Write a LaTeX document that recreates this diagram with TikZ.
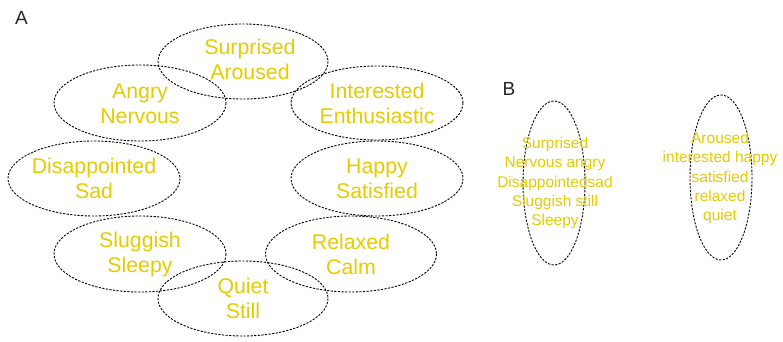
\documentclass[tikz,border=0pt]{standalone}
\usepackage{fontspec}
\setmainfont{Liberation Sans}
\definecolor{emo}{RGB}{228,204,0}
\begin{document}
\begin{tikzpicture}[x=1pt,y=-1pt,
  blob/.style={draw=black, line width=0.9pt, dash pattern=on 2.2pt off 1.4pt},
  bigtxt/.style={text=emo, align=center, font=\fontsize{21.3}{25}\selectfont, inner sep=0pt},
  smalltxt/.style={text=emo, align=center, font=\fontsize{15.5}{19.4}\selectfont, inner sep=0pt},
  panel/.style={text=black!85, font=\fontsize{19}{22}\selectfont, inner sep=0pt}]
\useasboundingbox (0,0) rectangle (783,342);
\node[panel] (la) at (21.5,17.5) {A};
\node[panel] (lb) at (509,89) {B};
% panel A ellipses
\draw[blob] (243,61.5) ellipse [x radius=85, y radius=37.5];
\draw[blob] (140,103) ellipse [x radius=86, y radius=38];
\draw[blob] (377,103) ellipse [x radius=86, y radius=37];
\draw[blob] (94,178.5) ellipse [x radius=86, y radius=37.5];
\draw[blob] (377,178.5) ellipse [x radius=86, y radius=37.5];
\draw[blob] (140,254) ellipse [x radius=86, y radius=38];
\draw[blob] (351,254) ellipse [x radius=85.5, y radius=38];
\draw[blob] (243,298.5) ellipse [x radius=85, y radius=37.5];
% panel A texts
\node[bigtxt] (t1) at (250,59.5) {Surprised\\Aroused};
\node[bigtxt] (t2) at (140,103.5) {Angry\\Nervous};
\node[bigtxt] (t3) at (377,103.5) {Interested\\Enthusiastic};
\node[bigtxt] (t4) at (94,178.5) {Disappointed\\Sad};
\node[bigtxt] (t5) at (377,178.5) {Happy\\Satisfied};
\node[bigtxt] (t6) at (140,254) {Sluggish\\Sleepy};
\node[bigtxt] (t7) at (351,254) {Relaxed\\Calm};
\node[bigtxt] (t8) at (243,298.5) {Quiet\\Still};
% panel B
\draw[blob] (554,183) ellipse [x radius=31, y radius=82];
\draw[blob] (721,177.5) ellipse [x radius=31, y radius=82.5];
\node[smalltxt] (b1) at (555,183) {Surprised\\Nervous angry\\Disappointedsad\\Sluggish still\\Sleepy};
\node[smalltxt] (b2) at (720,178) {Aroused\\interested happy\\satisfied\\relaxed\\quiet};
\end{tikzpicture}
\end{document}
